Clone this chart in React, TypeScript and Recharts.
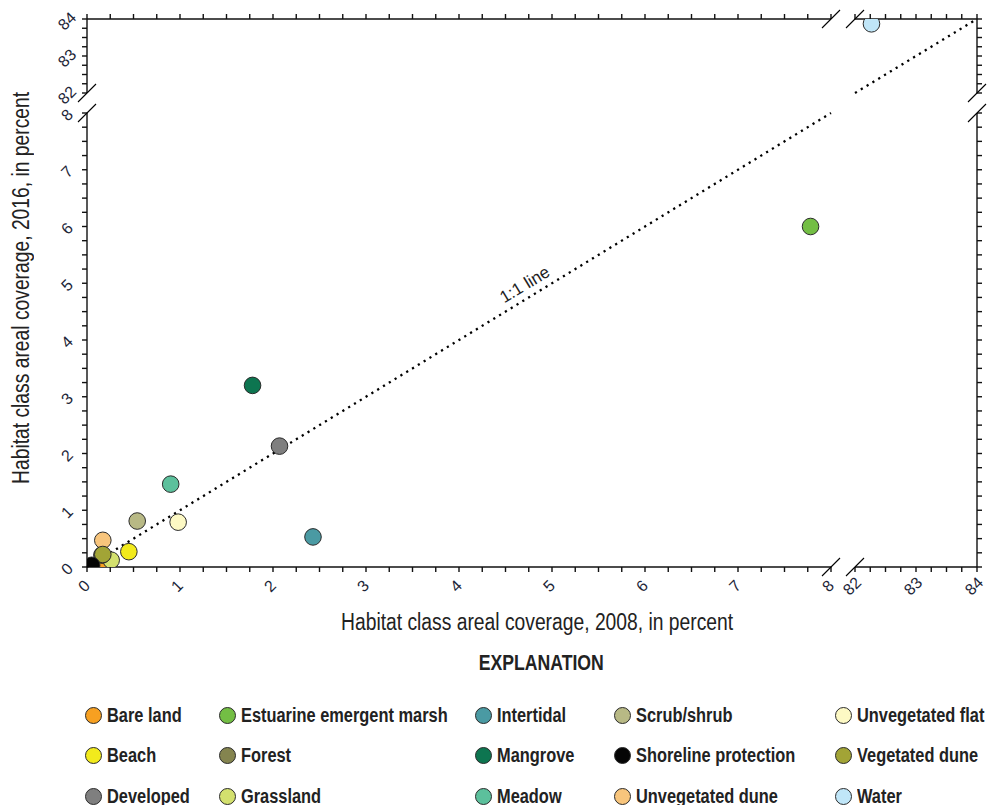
import React from "react";
import { ReferenceDot, ReferenceLine, Scatter, ScatterChart, XAxis, YAxis } from "recharts";

// habitat classes, legend order
const habitatNames = [
  "Bare land",
  "Beach",
  "Developed",
  "Estuarine emergent marsh",
  "Forest",
  "Grassland",
  "Intertidal",
  "Mangrove",
  "Meadow",
  "Scrub/shrub",
  "Shoreline protection",
  "Unvegetated dune",
  "Unvegetated flat",
  "Vegetated dune",
  "Water"
];
const coverage2008 = [0.12, 0.45, 2.07, 7.78, 0.16, 0.26, 2.43, 1.78, 0.9, 0.54, 0.05, 0.17, 0.98, 0.17, 82.27];
const coverage2016 = [0.02, 0.27, 2.13, 6.0, 0.21, 0.12, 0.53, 3.2, 1.46, 0.81, 0.03, 0.47, 0.79, 0.22, 83.87];
const habitatColors = [
  "#f7a021",
  "#f2ea1c",
  "#7f7f7f",
  "#73be44",
  "#84844f",
  "#d3e06e",
  "#4a9aa3",
  "#0d7550",
  "#5cc09c",
  "#b8b985",
  "#050505",
  "#f8c57c",
  "#fdf9c4",
  "#a2a436",
  "#c0e6f8"
];
// paint order so overlapping markers stack like the figure
const drawOrder = [
  "Bare land",
  "Grassland",
  "Forest",
  "Unvegetated dune",
  "Vegetated dune",
  "Beach",
  "Scrub/shrub",
  "Unvegetated flat",
  "Meadow",
  "Developed",
  "Mangrove",
  "Intertidal",
  "Estuarine emergent marsh",
  "Water",
  "Shoreline protection"
];

const lowLabels = [0, 1, 2, 3, 4, 5, 6, 7, 8];
const highLabels = [82, 83, 84];
const lowDomain: [number, number] = [0, 8];
const highDomain: [number, number] = [82, 84];
const oneToOne = [0, 8, 82, 84];

const quarterTicks = (lo: number, hi: number) =>
  Array.from({ length: (hi - lo) * 4 + 1 }, (_, i) => lo + i / 4);

const W = 1005;
const H = 805;
const AX = 30;
const SANS = '"Liberation Sans", Arial, sans-serif';
const SQUEEZE = 0.82; // stand-in for the condensed face of the original

const points = drawOrder.map((name) => {
  const i = habitatNames.indexOf(name);
  return { name, color: habitatColors[i], x: coverage2008[i], y: coverage2016[i] };
});

const makeTick = (orient: string, labels: number[]) => (props: any) => {
  const { x, y, payload } = props;
  const v = payload.value;
  if (!labels.includes(v)) return <g />;
  let cx = x;
  let cy = y;
  if (orient === "bottom") {
    cx = x - 3;
    cy = y + 12;
  } else {
    cx = x - 13;
    cy = y + 2;
  }
  return (
    <text
      x={cx}
      y={cy}
      transform={`rotate(-45 ${cx} ${cy})`}
      textAnchor="middle"
      dominantBaseline="central"
      fontFamily={SANS}
      fontSize={16}
      fill="#1d2638"
    >
      {v}
    </text>
  );
};

const slash = (p: any) => (
  <line x1={p.cx - 9} y1={p.cy + 9} x2={p.cx + 9} y2={p.cy - 9} stroke="#000" strokeWidth={1.1} />
);

const oneToOneLabel = (p: any) => (
  <text
    x={p.cx}
    y={p.cy}
    transform={`rotate(-31.4 ${p.cx} ${p.cy}) translate(0 -13)`}
    textAnchor="middle"
    dominantBaseline="central"
    fontFamily={SANS}
    fontSize={17}
    fill="#222"
  >
    1:1 line
  </text>
);

const Dot = (p: any) => (
  <circle cx={p.cx} cy={p.cy} r={8.3} fill={p.payload.color} stroke="#2b2b2b" strokeWidth={1} />
);

type PanelProps = {
  left: number;
  top: number;
  right: number;
  bottom: number;
  xDomain: [number, number];
  yDomain: [number, number];
  xOrient: "top" | "bottom";
  yOrient: "left" | "right";
  xLabels: number[];
  yLabels: number[];
  children?: React.ReactNode;
};

const Panel = ({ left, top, right, bottom, xDomain, yDomain, xOrient, yOrient, xLabels, yLabels, children }: PanelProps) => {
  const margin = {
    left: yOrient === "left" ? left - AX : left,
    right: yOrient === "right" ? W - right - AX : W - right,
    top: xOrient === "top" ? top - AX : top,
    bottom: xOrient === "bottom" ? H - bottom - AX : H - bottom
  };
  const axisStyle = { stroke: "#111", strokeWidth: 1.4 };
  return (
    <div style={{ position: "absolute", left: 0, top: 0, pointerEvents: "none" }}>
      <ScatterChart width={W} height={H} margin={margin}>
        <XAxis
          type="number"
          dataKey="x"
          orientation={xOrient}
          domain={xDomain}
          ticks={quarterTicks(xDomain[0], xDomain[1])}
          interval={0}
          allowDataOverflow
          height={AX}
          tickSize={5}
          axisLine={axisStyle}
          tickLine={axisStyle}
          tick={makeTick(xOrient, xLabels)}
        />
        <YAxis
          type="number"
          dataKey="y"
          orientation={yOrient}
          domain={yDomain}
          ticks={quarterTicks(yDomain[0], yDomain[1])}
          interval={0}
          allowDataOverflow
          width={AX}
          tickSize={5}
          axisLine={axisStyle}
          tickLine={axisStyle}
          tick={makeTick(yOrient, yLabels)}
        />
        {children}
      </ScatterChart>
    </div>
  );
};

const legendCols = [93, 227, 483, 622, 843];
const legendRows = [715, 755.5, 796];

const Squeezed = ({ children, origin = "center", k = SQUEEZE }: { children: React.ReactNode; origin?: string; k?: number }) => (
  <span style={{ display: "inline-block", transform: `scaleX(${k})`, transformOrigin: origin, whiteSpace: "nowrap" }}>
    {children}
  </span>
);

export default function App() {
  const low = points.filter((p) => p.x <= 8 && p.y <= 8);
  const high = points.filter((p) => p.x >= 82 && p.y >= 82);
  return (
    <div style={{ position: "absolute", left: 0, top: 0, width: W, height: H, background: "#fff", overflow: "hidden" }}>
      {/* lower-left: 0-8 by 0-8 */}
      <Panel left={87} top={113} right={831} bottom={567} xDomain={lowDomain} yDomain={lowDomain}
        xOrient="bottom" yOrient="left" xLabels={lowLabels} yLabels={lowLabels}>
        <ReferenceLine
          segment={[{ x: oneToOne[0], y: oneToOne[0] }, { x: oneToOne[1], y: oneToOne[1] }]}
          stroke="#000" strokeWidth={2.3} strokeDasharray="2.2 4.6" ifOverflow="visible"
        />
        <ReferenceDot x={4.78} y={4.78} r={0} ifOverflow="visible" shape={oneToOneLabel} />
        {low.map((p) => (
          <Scatter key={p.name} name={p.name} data={[p]} shape={Dot} isAnimationActive={false} />
        ))}
        <ReferenceDot x={8} y={0} r={0} ifOverflow="visible" shape={slash} />
        <ReferenceDot x={0} y={8} r={0} ifOverflow="visible" shape={slash} />
      </Panel>
      {/* upper-left strip: 0-8 by 82-84 */}
      <Panel left={87} top={19} right={831} bottom={93} xDomain={lowDomain} yDomain={highDomain}
        xOrient="top" yOrient="left" xLabels={[]} yLabels={highLabels}>
        <ReferenceDot x={8} y={84} r={0} ifOverflow="visible" shape={slash} />
        <ReferenceDot x={0} y={82} r={0} ifOverflow="visible" shape={slash} />
      </Panel>
      {/* lower-right strip: 82-84 by 0-8 */}
      <Panel left={855} top={113} right={977} bottom={567} xDomain={highDomain} yDomain={lowDomain}
        xOrient="bottom" yOrient="right" xLabels={highLabels} yLabels={[]}>
        <ReferenceDot x={82} y={0} r={0} ifOverflow="visible" shape={slash} />
        <ReferenceDot x={84} y={8} r={0} ifOverflow="visible" shape={slash} />
      </Panel>
      {/* upper-right: 82-84 by 82-84 */}
      <Panel left={855} top={19} right={977} bottom={93} xDomain={highDomain} yDomain={highDomain}
        xOrient="top" yOrient="right" xLabels={[]} yLabels={[]}>
        <ReferenceLine
          segment={[{ x: oneToOne[2], y: oneToOne[2] }, { x: oneToOne[3], y: oneToOne[3] }]}
          stroke="#000" strokeWidth={2.3} strokeDasharray="2.2 4.6" ifOverflow="visible"
        />
        {high.map((p) => (
          <Scatter key={p.name} name={p.name} data={[p]} shape={Dot} isAnimationActive={false} />
        ))}
        <ReferenceDot x={82} y={84} r={0} ifOverflow="visible" shape={slash} />
        <ReferenceDot x={84} y={82} r={0} ifOverflow="visible" shape={slash} />
      </Panel>

      <div style={{ position: "absolute", left: 0, width: 1074, top: 609, textAlign: "center", fontFamily: SANS, fontSize: 23.5, color: "#222", lineHeight: "26px" }}>
        <Squeezed>Habitat class areal coverage, 2008, in percent</Squeezed>
      </div>
      <div style={{ position: "absolute", left: 21, top: 288, width: 0, height: 0 }}>
        <div style={{ position: "absolute", left: -300, top: -13, width: 600, textAlign: "center", transform: "rotate(-90deg)", fontFamily: SANS, fontSize: 23.5, color: "#222", lineHeight: "26px", whiteSpace: "nowrap" }}>
          <Squeezed>Habitat class areal coverage, 2016, in percent</Squeezed>
        </div>
      </div>
      <div style={{ position: "absolute", left: 0, width: 1083, top: 650, textAlign: "center", fontFamily: SANS, fontWeight: 700, fontSize: 21.5, color: "#222", lineHeight: "26px" }}>
        <Squeezed>EXPLANATION</Squeezed>
      </div>
      {habitatNames.map((name, i) => {
        const col = Math.floor(i / 3);
        const row = i % 3;
        return (
          <div key={name} style={{ position: "absolute", left: legendCols[col] - 8.5, top: legendRows[row] - 12, height: 24, display: "flex", alignItems: "center", whiteSpace: "nowrap" }}>
            <span style={{ width: 15, height: 15, borderRadius: "50%", background: habitatColors[i], border: "1px solid #2b2b2b", display: "inline-block", flex: "none" }} />
            <span style={{ marginLeft: 5, fontFamily: SANS, fontWeight: 700, fontSize: 19.5, color: "#222" }}>
              <Squeezed origin="left" k={0.84}>{name}</Squeezed>
            </span>
          </div>
        );
      })}
    </div>
  );
}
